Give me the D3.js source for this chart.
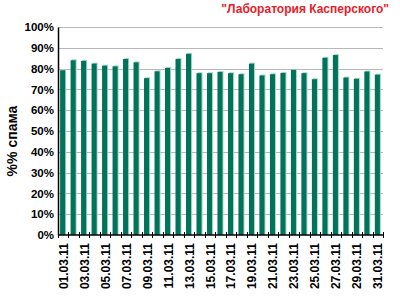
<!DOCTYPE html>
<html>
<head>
<meta charset="utf-8">
<script src="https://cdn.jsdelivr.net/npm/d3@7"></script>
<style>
  body { margin: 0; background: #fff; }
  svg { display: block; font-family: Arial, 'Liberation Sans', sans-serif; }
</style>
</head>
<body>
<div id="chart"></div>
<script>
const days = [ '01.03.11', '02.03.11', '03.03.11', '04.03.11', '05.03.11', '06.03.11', '07.03.11', '08.03.11',
  '09.03.11', '10.03.11', '11.03.11', '12.03.11', '13.03.11', '14.03.11', '15.03.11', '16.03.11',
  '17.03.11', '18.03.11', '19.03.11', '20.03.11', '21.03.11', '22.03.11', '23.03.11', '24.03.11',
  '25.03.11', '26.03.11', '27.03.11', '28.03.11', '29.03.11', '30.03.11', '31.03.11' ];

const spamShare = [ 79.2, 84.0, 83.7, 82.4, 81.4, 81.1, 84.6, 83.0,
  75.4, 78.7, 80.3, 84.6, 87.1, 77.8, 77.8, 78.4,
  77.8, 77.3, 82.4, 76.7, 77.3, 77.9, 79.4, 77.8,
  74.9, 85.2, 86.5, 75.7, 75.1, 78.6, 77.1 ];

const yTicks = [ 0, 10, 20, 30, 40, 50, 60, 70, 80, 90, 100 ];

const title = '"Лаборатория Касперского"';
const yTitle = '%% спама';

const W = 400, H = 300;
const margin = { top: 27, right: 17, bottom: 65, left: 58 },
  width = W - margin.left - margin.right,
  height = H - margin.top - margin.bottom;

const svg = d3.select('#chart').
  append('svg').
  attr('width', W).
  attr('height', H);

const x = d3.scaleBand().domain(days).range([ 0, width ]).paddingInner(0.42).paddingOuter(0.2);
const y = d3.scaleLinear().domain([ 0, 100 ]).range([ height, 0 ]);

const chart = svg.append('g').attr('transform', 'translate(' + margin.left + ',' + margin.top + ')');

// grid
chart.selectAll('.grid').
  data(yTicks.filter(function(d) { return d > 0; })).
  enter().append('line').
    attr('x1', 0).attr('x2', width).
    attr('y1', function(d) { return Math.round(y(d)) + 0.5; }).
    attr('y2', function(d) { return Math.round(y(d)) + 0.5; }).
    attr('stroke', '#b8b8b8').
    attr('stroke-width', 1);

// bars: light edge behind, dark body in front
const bw = x.bandwidth();
chart.selectAll('.edge').
  data(spamShare).
  enter().append('rect').
    attr('x', function(d, i) { return x(days[i]) + 1; }).
    attr('y', function(d) { return y(d) - 1; }).
    attr('width', bw - 1).
    attr('height', function(d) { return height - y(d) + 1; }).
    attr('fill', '#a6d9c6');

chart.selectAll('.bar').
  data(spamShare).
  enter().append('rect').
    attr('x', function(d, i) { return x(days[i]); }).
    attr('y', function(d) { return y(d); }).
    attr('width', bw - 1).
    attr('height', function(d) { return height - y(d); }).
    attr('fill', '#00735a');

// y axis
const yAxis = d3.axisLeft(y).tickValues(yTicks).tickSize(0).tickPadding(4).tickFormat(function(d) { return d + '%'; });
const yg = chart.append('g').call(yAxis);
yg.select('.domain').attr('stroke', '#000').attr('stroke-width', 1.5);
yg.selectAll('text').
  attr('font-size', 11.5).
  attr('font-weight', 'bold').
  attr('fill', '#000').
  attr('font-family', 'Arial, Liberation Sans, sans-serif');

// x axis, ticks sit between categories
chart.append('line').
  attr('x1', 0).attr('x2', width + 1).
  attr('y1', height).attr('y2', height).
  attr('stroke', '#000').attr('stroke-width', 1.5);

const step = x.step();
chart.selectAll('.xtick').
  data(d3.range(days.length + 1)).
  enter().append('line').
    attr('x1', function(i) { return Math.round(i * step) + 0.5; }).
    attr('x2', function(i) { return Math.round(i * step) + 0.5; }).
    attr('y1', height - 3).attr('y2', height + 3).
    attr('stroke', '#000').attr('stroke-width', 1);

chart.selectAll('.xlabel').
  data(days.filter(function(d, i) { return i % 2 === 0; })).
  enter().append('text').
    attr('transform', function(d) { return 'translate(' + (x(d) + bw / 2 + 4.5) + ',' + (height + 8) + ') rotate(-90)'; }).
    attr('text-anchor', 'end').
    attr('font-size', 12).
    attr('font-weight', 'bold').
    text(function(d) { return d; });

// titles
svg.append('text').
  attr('x', 389).attr('y', 13).
  attr('text-anchor', 'end').
  attr('font-size', 12).
  attr('font-weight', 'bold').
  attr('fill', '#e8202a').
  text(title);

svg.append('text').
  attr('transform', 'translate(17,141) rotate(-90)').
  attr('text-anchor', 'middle').
  attr('font-size', 14).
  attr('font-weight', 'bold').
  text(yTitle);
</script>
</body>
</html>
